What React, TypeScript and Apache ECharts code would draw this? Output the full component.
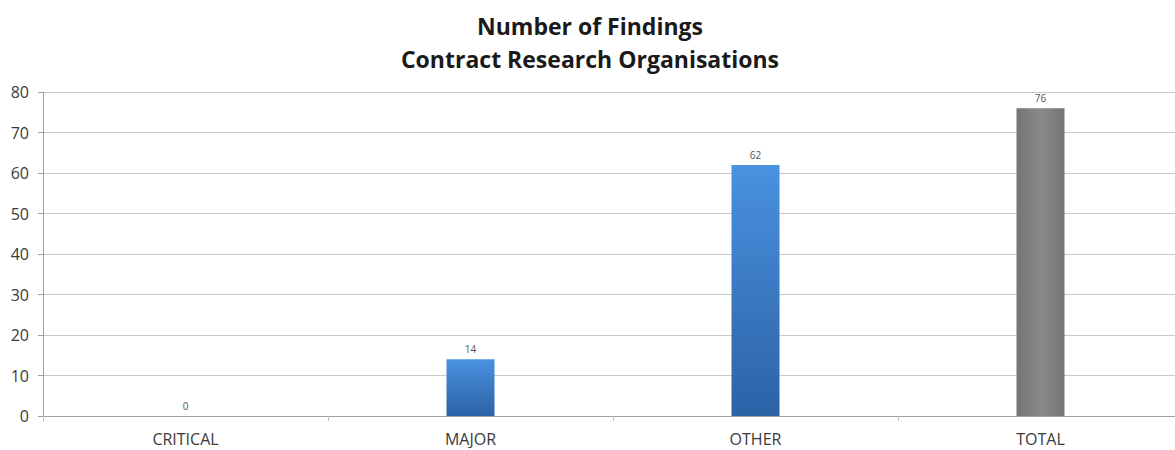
import React, { useEffect, useRef } from "react";
import * as echarts from "echarts";

const categories = ["CRITICAL", "MAJOR", "OTHER", "TOTAL"];
const findings = [0, 14, 62, 76];
const yTicks = { min: 0, max: 80, interval: 10 };
const titleLines = ["Number of Findings", "Contract Research Organisations"];

const blue = new echarts.graphic.LinearGradient(0, 0, 0, 1, [
  { offset: 0, color: "#4a91e0" },
  { offset: 1, color: "#2c62a6" },
]);
const grey = new echarts.graphic.LinearGradient(0, 0, 1, 0, [
  { offset: 0, color: "#747474" },
  { offset: 0.5, color: "#8a8a8a" },
  { offset: 1, color: "#747474" },
]);

const FONT = "'Open Sans', sans-serif";

export default function App() {
  const ref = useRef<HTMLDivElement>(null);
  useEffect(() => {
    const chart = echarts.init(ref.current!, null, { renderer: "svg" });
    chart.setOption({
      animation: false,
      backgroundColor: "#ffffff",
      title: {
        text: titleLines.join("\n"),
        left: 585,
        textAlign: "center",
        top: 4,
        textStyle: {
          fontFamily: FONT,
          fontWeight: "bold",
          fontSize: 23,
          lineHeight: 33,
          color: "#1a1a1a",
        },
      },
      grid: { left: 43, right: 0, top: 92, bottom: 34 },
      xAxis: {
        type: "category",
        data: categories,
        axisLine: { lineStyle: { color: "#a0a0a0" } },
        axisTick: { show: true, length: 5, lineStyle: { color: "#c0c0c0" } },
        axisLabel: { color: "#3a3a3a", fontSize: 16, fontFamily: FONT, margin: 15 },
      },
      yAxis: {
        type: "value",
        min: yTicks.min,
        max: yTicks.max,
        interval: yTicks.interval,
        axisLine: { show: true, lineStyle: { color: "#a0a0a0" } },
        axisTick: { show: true, length: 5, lineStyle: { color: "#a0a0a0" } },
        axisLabel: { color: "#3a3a3a", fontSize: 16, fontFamily: FONT, margin: 14 },
        splitLine: { lineStyle: { color: "#c8c8c8" } },
      },
      series: [
        {
          type: "bar",
          barWidth: 48,
          data: findings.map((v, i) => ({
            value: v,
            itemStyle: { color: i === 3 ? grey : blue },
          })),
          label: {
            show: true,
            position: "top",
            distance: 5,
            fontSize: 10,
            color: "#555",
            fontFamily: FONT,
          },
        },
      ],
    });
    return () => chart.dispose();
  }, []);
  return (
    <div
      ref={ref}
      style={{ position: "fixed", left: 0, top: 0, width: 1183, height: 450 }}
    />
  );
}
